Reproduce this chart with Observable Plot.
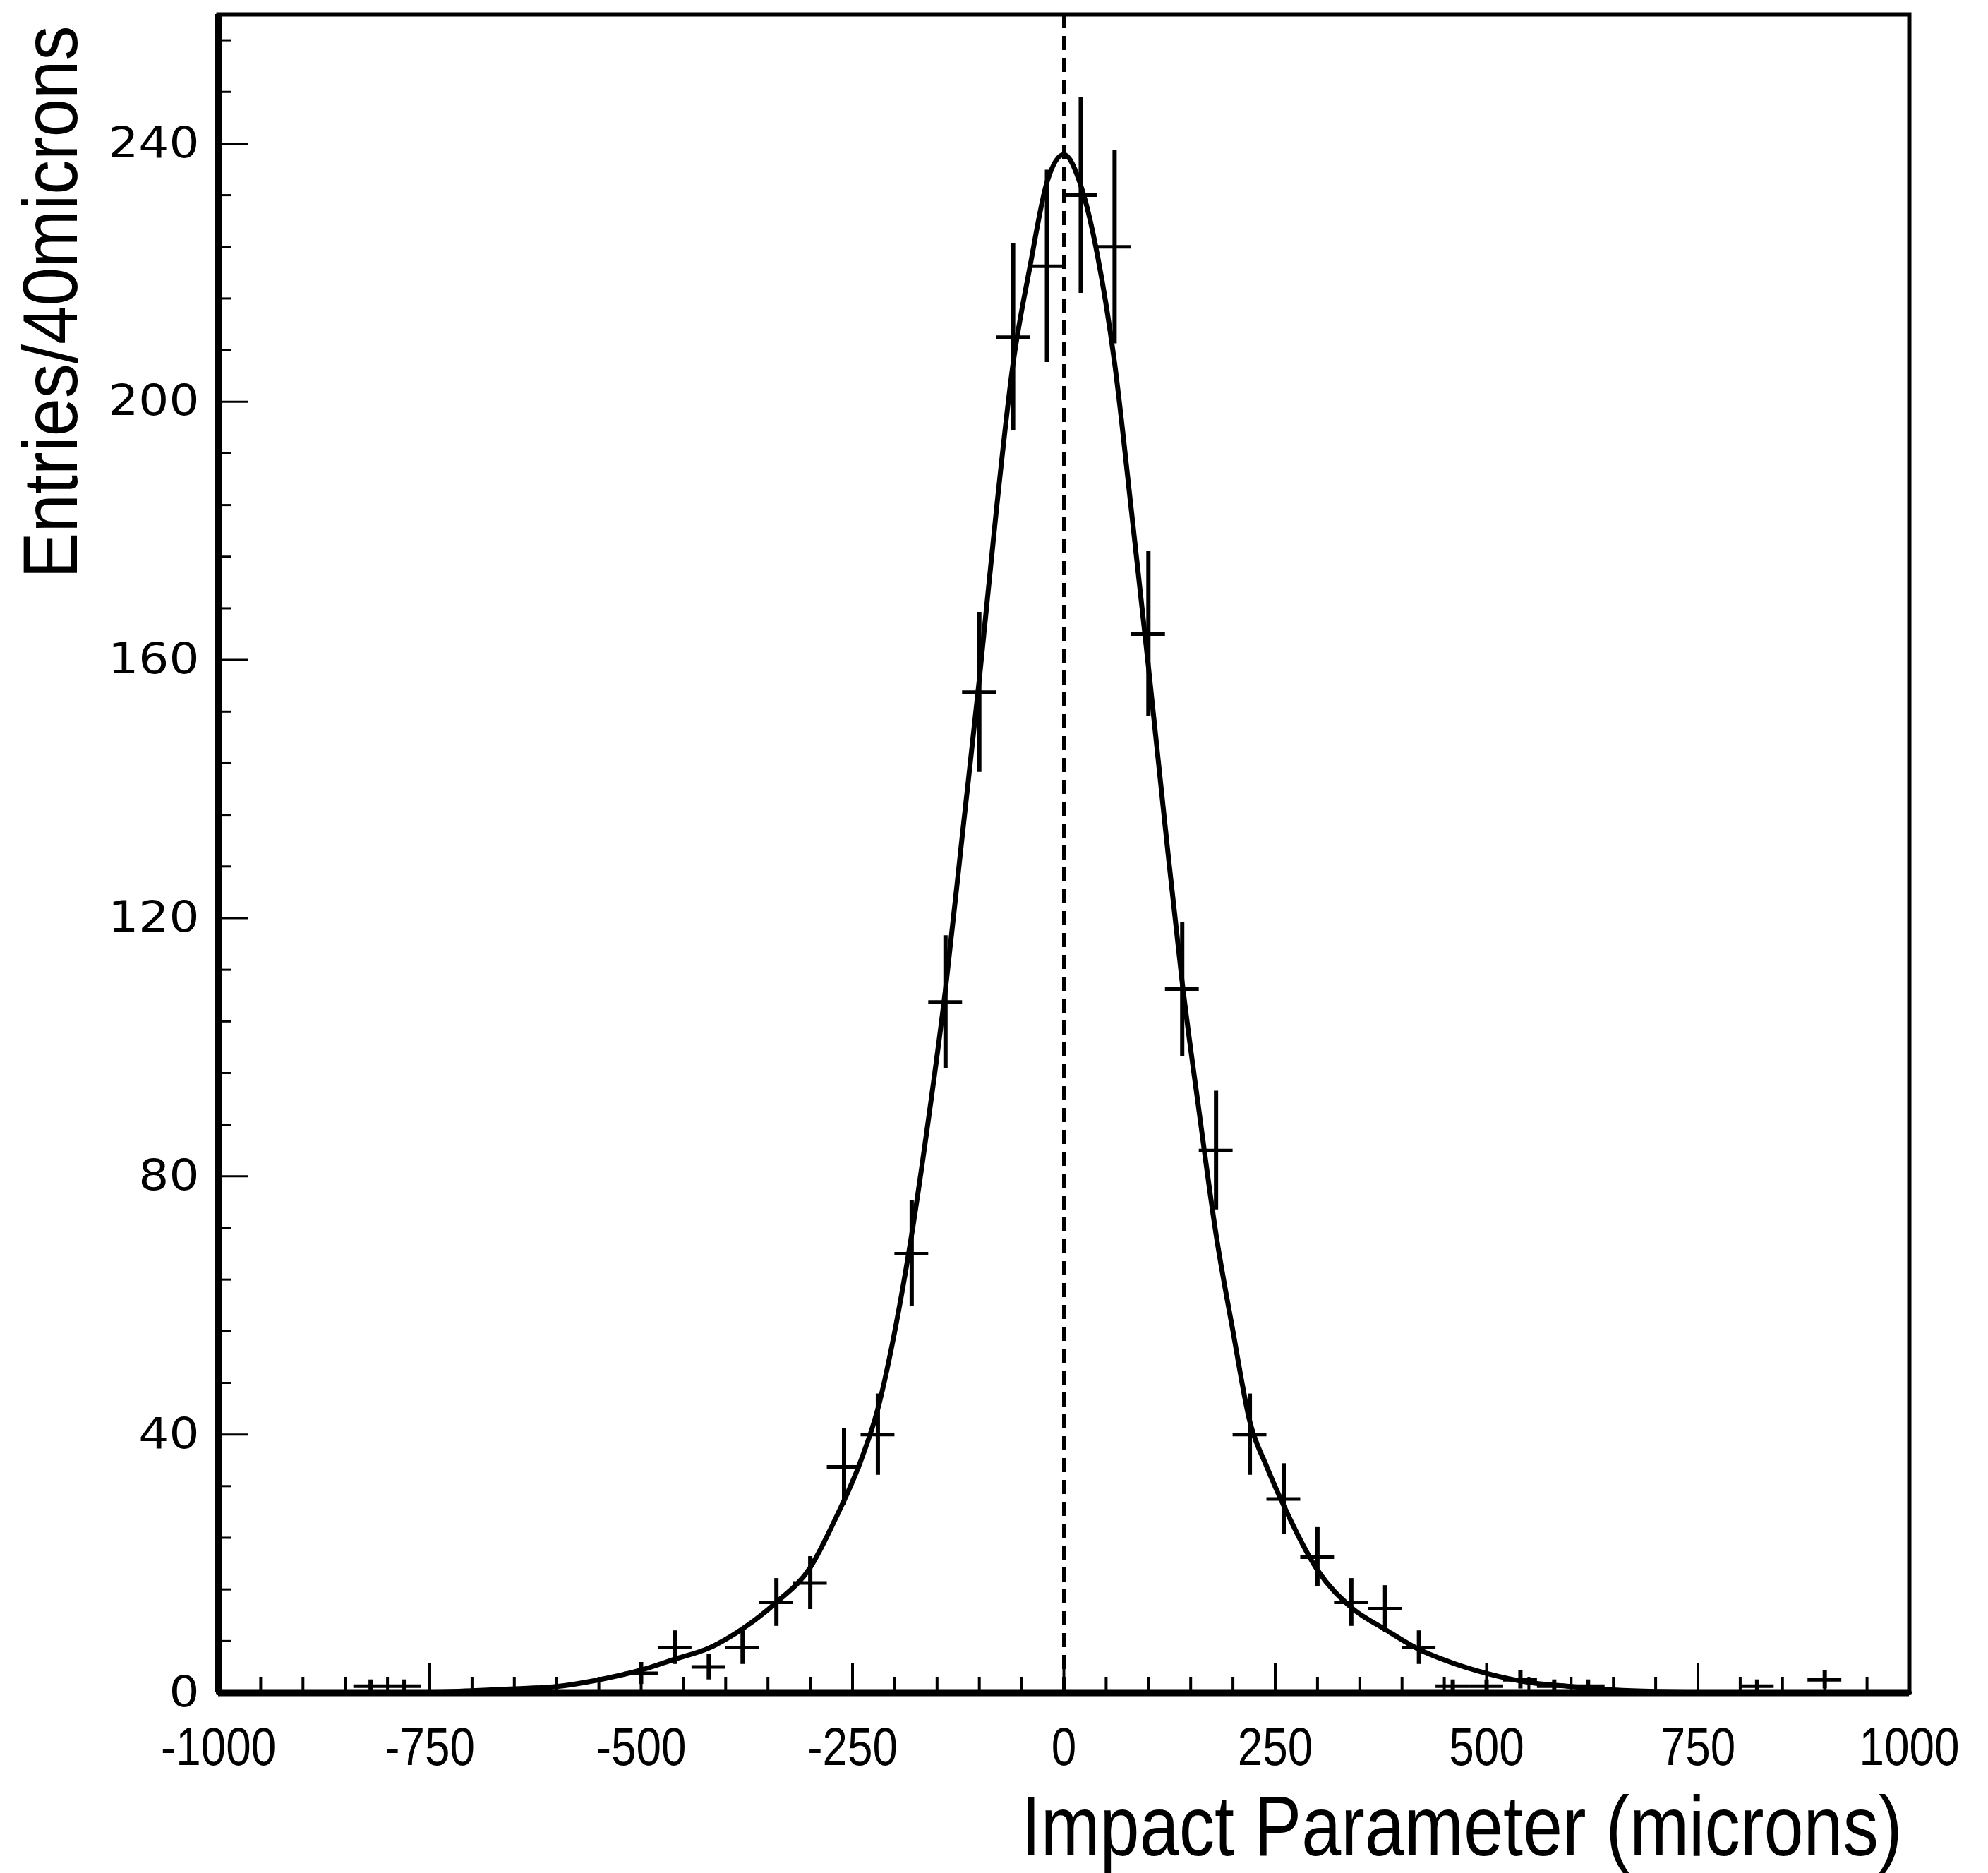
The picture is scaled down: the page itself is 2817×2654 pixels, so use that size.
<!DOCTYPE html>
<html>
<head>
<meta charset="utf-8">
<script src="https://cdn.jsdelivr.net/npm/d3@7"></script>
<script src="https://cdn.jsdelivr.net/npm/@observablehq/plot@0.6"></script>
<style>
html, body { margin: 0; padding: 0; background: #fff; overflow: hidden; }
svg { display: block; }
</style>
</head>
<body>
<div id="chart"></div>
<script>
// ---- Data (histogram, 40 micron bins) ----
const binCenters = [-820, -780, -500, -460, -420, -380, -340, -300, -260, -220, -180, -140, -100, -60, -20,
                    20, 60, 100, 140, 180, 220, 260, 300, 340, 380, 420, 460, 500, 540, 580, 620, 820, 900];
const entries    = [1, 1, 3, 7, 4, 7, 14, 17, 35, 40, 68, 107, 155, 210, 221,
                    232, 224, 164, 109, 84, 40, 30, 21, 14, 13, 7, 1, 1, 2, 1, 1, 1, 2];
const errors     = [1, 1, 1.7, 2.6, 2, 2.6, 3.7, 4.1, 5.9, 6.3, 8.2, 10.3, 12.4, 14.5, 14.9,
                    15.2, 15, 12.8, 10.4, 9.2, 6.3, 5.5, 4.6, 3.7, 3.6, 2.6, 1, 1, 1.4, 1, 1, 1, 1.4];
const binWidth = 40;

// Fitted curve
const fitX = [-1000, -850, -750, -700, -650, -600, -550, -500, -460, -420, -380, -340, -300, -270, -240,
              -220, -200, -180, -160, -140, -120, -100, -80, -60, -40, -20, 0, 20, 40, 60, 80, 100, 120,
              140, 160, 180, 200, 220, 240, 260, 300, 340, 380, 420, 460, 500, 550, 600, 650, 700, 800, 1000];
const fitY = [0, 0, 0.1, 0.3, 0.6, 0.95, 2.0, 3.5, 5.2, 6.9, 9.9, 14, 19.4, 27, 36,
              44, 56, 71, 89, 109, 133, 157, 183, 206, 221, 234, 238.3, 233.5, 222.5, 206, 183, 159, 134,
              110, 90, 71, 56, 42, 35, 29, 19, 13.2, 9.8, 6.7, 4.6, 3.0, 1.6, 0.95, 0.45, 0.2, 0.03, 0];

// Axes
const xDomain = [-1000, 1000];
const yDomain = [0, 260];
const xLabelTicks = [-1000, -750, -500, -250, 0, 250, 500, 750, 1000];
const xMinorTicks = d3.range(-950, 1000, 50).filter(v => v % 250 !== 0);
const yLabelTicks = [0, 40, 80, 120, 160, 200, 240];
const yMajorTicks = [40, 80, 120, 160, 200, 240];
const yMinorTicks = d3.range(8, 260, 8).filter(v => v % 40 !== 0);

const xTitle = "Impact Parameter (microns)";
const yTitle = "Entries/40microns";

// ---- Layout ----
const W = 2817, H = 2654;
const mL = 309, mR = 112, mT = 20, mB = 256;
const frameW = W - mL - mR, frameH = H - mT - mB;
const sansFont = "Liberation Sans, Arial, Helvetica, sans-serif";

const points = binCenters.map((x, i) => ({x, y: entries[i], err: errors[i]}));
const fit = fitX.map((x, i) => ({x, y: fitY[i]}));

const chart = Plot.plot({
  width: W,
  height: H,
  marginLeft: mL,
  marginRight: mR,
  marginTop: mT,
  marginBottom: mB,
  style: {background: "white", color: "black", fontFamily: sansFont},
  x: {domain: xDomain, label: null},
  y: {domain: yDomain, label: null},
  marks: [
    // error bars
    Plot.ruleX(points, {x: "x", y1: d => Math.max(0, d.y - d.err), y2: d => d.y + d.err, strokeWidth: 6}),
    // bin-width bars
    Plot.ruleY(points, {y: "y", x1: d => d.x - binWidth / 2, x2: d => d.x + binWidth / 2, strokeWidth: 5}),
    // fit curve
    Plot.line(fit, {x: "x", y: "y", curve: "monotone-x", strokeWidth: 7, strokeLinejoin: "round"}),
    // dashed zero line
    Plot.ruleX([0], {strokeWidth: 5, strokeDasharray: "20,11"}),
    // frame
    Plot.frame({strokeWidth: 6}),
    Plot.ruleX([xDomain[0]], {strokeWidth: 10}),
    Plot.ruleY([yDomain[0]], {strokeWidth: 10}),
    // inward ticks
    Plot.tickX(xMinorTicks, {x: d => d, insetTop: frameH - 22, strokeWidth: 4}),
    Plot.tickX(xLabelTicks, {x: d => d, insetTop: frameH - 41, strokeWidth: 4}),
    Plot.tickY(yMinorTicks, {y: d => d, insetRight: frameW - 18, strokeWidth: 3}),
    Plot.tickY(yMajorTicks, {y: d => d, insetRight: frameW - 42, strokeWidth: 3}),
    // tick labels
    Plot.axisX(xLabelTicks, {tickSize: 0, tickPadding: 49, fontSize: 76, label: null,
      fontFamily: sansFont, tickFormat: d => String(d)}),
    Plot.axisY(yLabelTicks, {tickSize: 0, tickPadding: 27, fontSize: 60, label: null,
      fontFamily: "DejaVu Sans, sans-serif", tickFormat: d => String(d)}),
    // axis titles
    Plot.text([xTitle], {frameAnchor: "bottom-right", textAnchor: "end", lineAnchor: "bottom",
      dx: -10, dy: 230, fontSize: 120, fontFamily: sansFont}),
    Plot.text([yTitle], {frameAnchor: "top-left", rotate: -90, textAnchor: "end", lineAnchor: "bottom",
      dx: -201, dy: 16, fontSize: 110, fontFamily: sansFont})
  ]
});

document.getElementById("chart").appendChild(chart);

// Horizontal stretch / condensing of texts, as in the reference typography
function stretch(el, sx) {
  let t = el.getAttribute("transform") || "";
  const x = el.getAttribute("x");
  if (x !== null && !/em$/.test(x)) { t += ` translate(${x},0)`; el.removeAttribute("x"); }
  el.setAttribute("transform", `${t} scale(${sx},1)`);
}
const svg = d3.select(chart);
svg.selectAll('g[aria-label="x-axis tick label"] text').each(function () { stretch(this, 0.84); });
svg.selectAll('g[aria-label="y-axis tick label"] text').each(function () { stretch(this, 1.13); });
svg.selectAll("text").filter(function () { return this.textContent === xTitle; }).each(function () { stretch(this, 0.84); });
svg.selectAll("text").filter(function () { return this.textContent === yTitle; }).each(function () { stretch(this, 0.89); });
</script>
</body>
</html>
